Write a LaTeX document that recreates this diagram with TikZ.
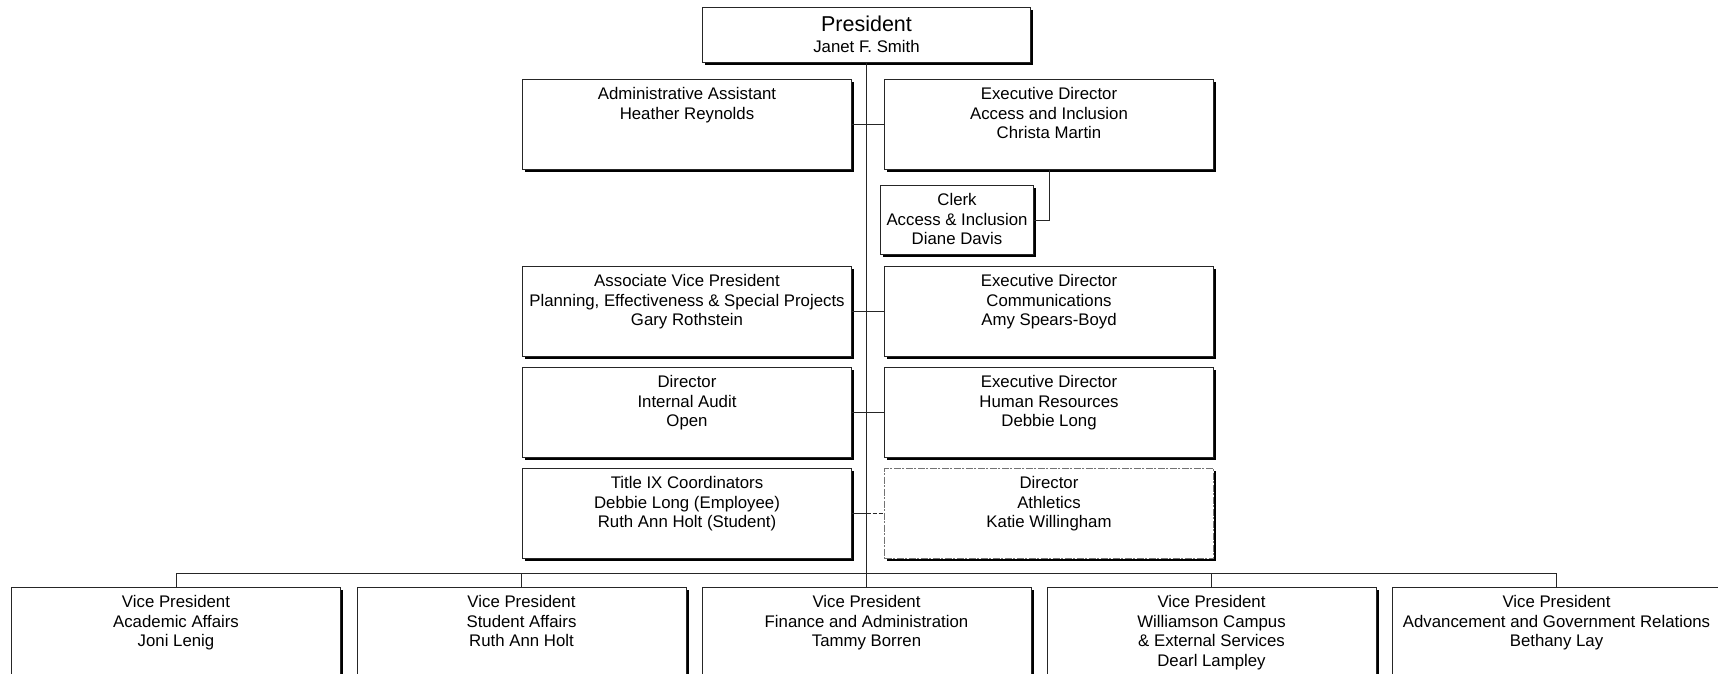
\documentclass[tikz,border=0pt]{standalone}
\usepackage{fontspec}
\setmainfont{Liberation Sans}
\usetikzlibrary{shadows}
\newcommand\boxtext[3]{\parbox[t][#2pt][t]{#1pt}{\centering\rule{0pt}{20pt}#3}}
\begin{document}
\begin{tikzpicture}[x=1pt,y=-1pt,
  ob/.style={draw=black!85, line width=1pt, fill=white, inner sep=0pt, anchor=north west,
    font=\fontsize{16.8}{19.7}\selectfont,
    drop shadow={shadow xshift=2.5pt,shadow yshift=-2.5pt,fill=black,opacity=1}},
  athbox/.style={ob, draw=black!55, dash pattern=on 7pt off 1.5pt on 2pt off 1.5pt},
  link/.style={draw=black!85, line width=1pt},
  dlink/.style={link, dash pattern=on 4pt off 2pt}]
\useasboundingbox (0,0) rectangle (1718,674);
\fill[white] (0,0) rectangle (1718,674);
\clip (0,0) rectangle (1718,674);

\node[ob] (pres) at (702,7) {\parbox[t][55pt][t]{328pt}{\centering\rule{0pt}{24.5pt}{\fontsize{21.5}{25}\selectfont President}\\[0.9pt]Janet F. Smith}};

\node[ob] (admin) at (522,79) {\boxtext{329}{90}{Administrative Assistant\\Heather Reynolds}};
\node[ob] (execA) at (884,79) {\boxtext{329}{90}{Executive Director\\Access and Inclusion\\Christa Martin}};
\node[ob] (clerk) at (880,185) {\boxtext{153}{69}{Clerk\\Access \& Inclusion\\Diane Davis}};

\node[ob] (avp) at (522,266) {\boxtext{329}{90}{Associate Vice President\\Planning, Effectiveness \& Special Projects\\Gary Rothstein}};
\node[ob] (comm) at (884,266) {\boxtext{329}{90}{Executive Director\\Communications\\Amy Spears-Boyd}};

\node[ob] (audit) at (522,367) {\boxtext{329}{90}{Director\\Internal Audit\\Open}};
\node[ob] (hr) at (884,367) {\boxtext{329}{90}{Executive Director\\Human Resources\\Debbie Long}};

\node[ob] (title) at (522,468) {\boxtext{329}{90}{Title IX Coordinators\\Debbie Long (Employee)\\Ruth Ann Holt (Student)}};
\node[athbox] (athl) at (884,468) {\boxtext{329}{90}{Director\\Athletics\\Katie Willingham}};

\node[ob] (vpaa) at (11,587) {\boxtext{329}{100}{Vice President\\Academic Affairs\\Joni Lenig}};
\node[ob] (vpsa) at (356.5,587) {\boxtext{329}{100}{Vice President\\Student Affairs\\Ruth Ann Holt}};
\node[ob] (vpfin) at (701.5,587) {\boxtext{329}{100}{Vice President\\Finance and Administration\\Tammy Borren}};
\node[ob] (vpwc) at (1046.5,587) {\boxtext{329}{100}{Vice President\\Williamson Campus\\\& External Services\\Dearl Lampley}};
\node[ob] (vpadv) at (1391.5,587) {\boxtext{329}{100}{Vice President\\Advancement and Government Relations\\Bethany Lay}};

\draw[link] (pres.south) -- (vpfin.north);
\draw[link] (admin.east) -- (execA.west);
\draw[link] (execA.south) |- (clerk.east);
\draw[link] (avp.east) -- (comm.west);
\draw[link] (audit.east) -- (hr.west);
\coordinate (t9) at (title.east -| pres.south);
\draw[link] (title.east) -- (t9);
\draw[dlink] (t9) -- (athl.west);
\draw[link] (vpaa.north) -- ++(0,-14) -| (vpadv.north);
\draw[link] (vpsa.north) -- ++(0,-14);
\draw[link] (vpwc.north) -- ++(0,-14);
\end{tikzpicture}
\end{document}
